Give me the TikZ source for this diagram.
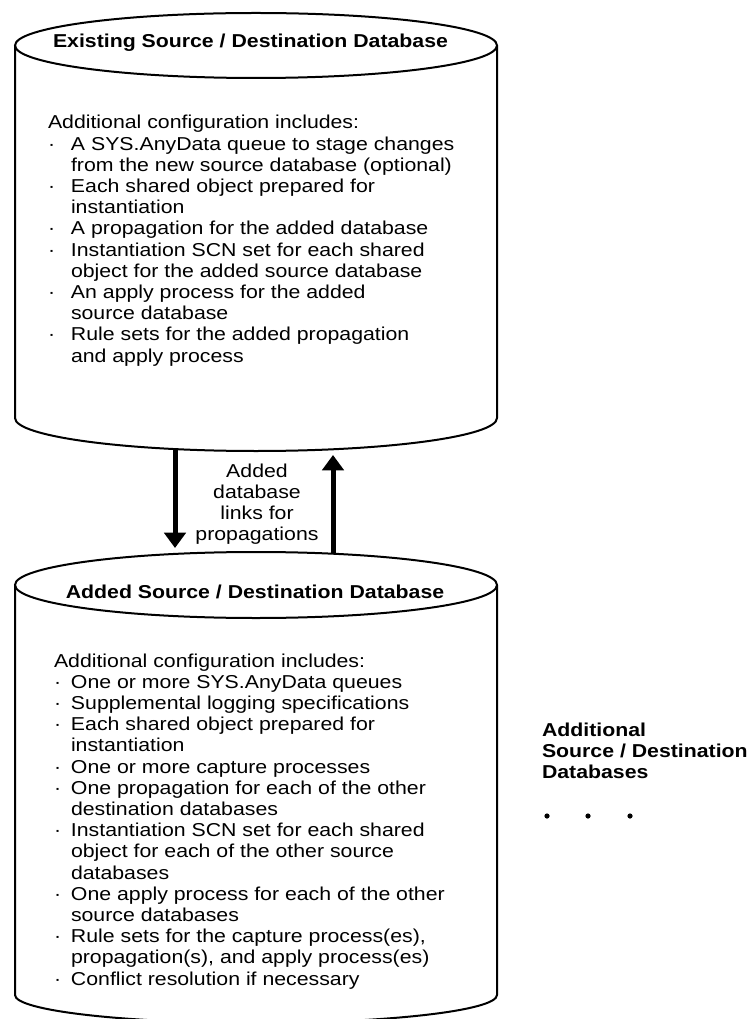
\documentclass[tikz,border=0pt]{standalone}
\usepackage{fontspec}
\setmainfont{Liberation Sans}[FakeStretch=1.14]
\usetikzlibrary{arrows.meta}

\tikzset{every picture/.style={line width=1.5pt}}
\tikzset{
  dbtext/.style={anchor=base west,inner sep=0pt,font=\fontsize{14}{15.9}\selectfont},
  dbtitle/.style={anchor=base,inner sep=0pt,font=\fontsize{14}{15.9}\selectfont\bfseries},
  dblink/.style={line width=3.75pt,-{Triangle[length=11.5pt,width=16pt]}}
}
\newcommand{\dbdot}[1]{\makebox[#1][l]{\textperiodcentered}}

\begin{document}
\begin{tikzpicture}[x=0.75pt,y=0.75pt,yscale=-1,xscale=1]
\useasboundingbox (0,0) rectangle (749,1019);
\clip (0,0) rectangle (749,1019);

%Shape: Can [id:existing]
\draw (15,45.5) -- (15,418) arc[start angle=180,end angle=0,x radius=241,y radius=33] -- (497,45.5) ;
\draw (256,45.5) ellipse [x radius=241,y radius=32.5] ;
%Shape: Can [id:added]
\draw (15,585) -- (15,995) arc[start angle=180,end angle=0,x radius=241,y radius=28] -- (497,585) ;
\draw (256,585) ellipse [x radius=241,y radius=33] ;

% Link ends
\coordinate (exist-out) at (175,449);
\coordinate (added-in) at (175,548);
\coordinate (added-out) at (333,553);
\coordinate (exist-in) at (333,455);

%Straight Lines [id:down]
\draw [dblink] (exist-out) -- (added-in) ;
%Straight Lines [id:up]
\draw [dblink] (added-out) -- (exist-in) ;

% Text Node
\node (existtitle) [dbtitle] at (250.5,48) {Existing Source / Destination Database};
% Text Node
\node (existconf) [dbtext] at (47,129) {\begin{tabular}[t]{@{}l@{}l@{}}
\multicolumn{2}{@{}l@{}}{Additional configuration includes:}\\
\dbdot{17.25pt} & A SYS.AnyData queue to stage changes\\
 & from the new source database (optional)\\
\dbdot{17.25pt} & Each shared object prepared for\\
 & instantiation\\
\dbdot{17.25pt} & A propagation for the added database\\
\dbdot{17.25pt} & Instantiation SCN set for each shared\\
 & object for the added source database\\
\dbdot{17.25pt} & An apply process for the added\\
 & source database\\
\dbdot{17.25pt} & Rule sets for the added propagation\\
 & and apply process
\end{tabular}};

% Text Node
\node (linklabel) [dbtext,anchor=base] at (257,477) {\begin{tabular}[t]{@{}c@{}}
Added\\database\\links for\\propagations
\end{tabular}};

% Text Node
\node (addedtitle) [dbtitle] at (255,598) {Added Source / Destination Database};
% Text Node
\node (addedconf) [dbtext] at (53,667) {\begin{tabular}[t]{@{}l@{}l@{}}
\multicolumn{2}{@{}l@{}}{Additional configuration includes:}\\
\dbdot{12.75pt} & One or more SYS.AnyData queues\\
\dbdot{12.75pt} & Supplemental logging specifications\\
\dbdot{12.75pt} & Each shared object prepared for\\
 & instantiation\\
\dbdot{12.75pt} & One or more capture processes\\
\dbdot{12.75pt} & One propagation for each of the other\\
 & destination databases\\
\dbdot{12.75pt} & Instantiation SCN set for each shared\\
 & object for each of the other source\\
 & databases\\
\dbdot{12.75pt} & One apply process for each of the other\\
 & source databases\\
\dbdot{12.75pt} & Rule sets for the capture process(es),\\
 & propagation(s), and apply process(es)\\
\dbdot{12.75pt} & Conflict resolution if necessary
\end{tabular}};

% Text Node
\node (moredbs) [dbtext,font=\fontsize{14}{15.9}\selectfont\bfseries] at (541,736) {\begin{tabular}[t]{@{}l@{}}
Additional\\Source / Destination\\Databases
\end{tabular}};
%Shape: Circle
\fill (547,816) circle (2.6) ;
\fill (588,816) circle (2.6) ;
\fill (630,816) circle (2.6) ;

\end{tikzpicture}
\end{document}
